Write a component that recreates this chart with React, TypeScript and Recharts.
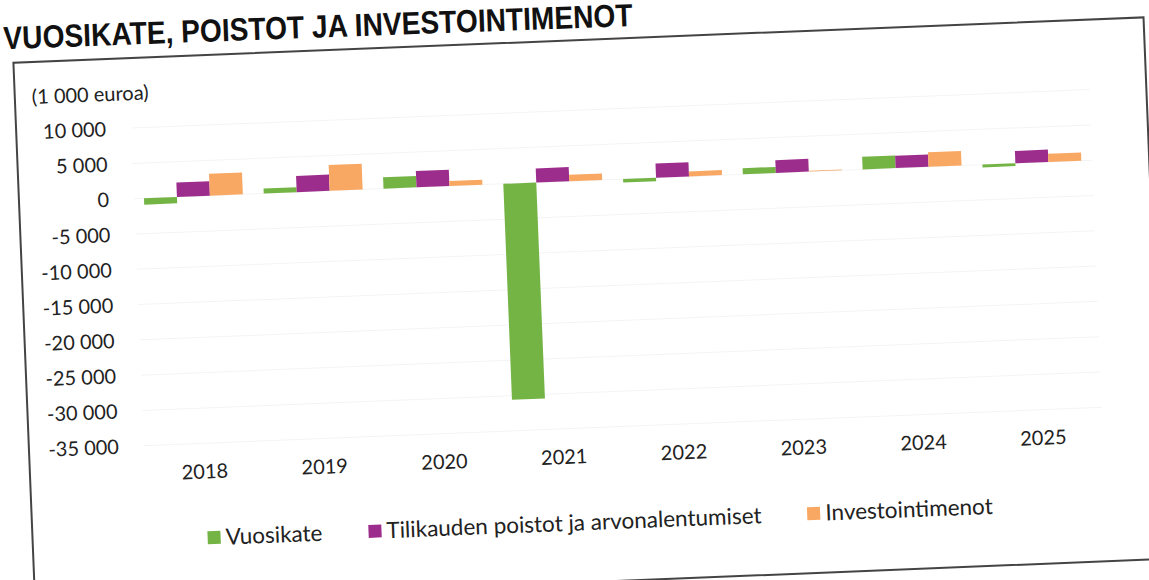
import { BarChart, Bar, XAxis, YAxis, CartesianGrid, Legend } from "recharts";

const years = ["2018", "2019", "2020", "2021", "2022", "2023", "2024", "2025"];
const vuosikate = [-900, 700, 1600, -30600, -500, 850, 1800, -400];
const poistot = [2050, 2300, 2300, 2000, 2000, 1800, 1750, 1750];
const investoinnit = [3100, 3650, 700, 900, 700, 100, 2050, 1150];
const yTicks = [10000, 5000, 0, -5000, -10000, -15000, -20000, -25000, -30000, -35000];

const series = [
  { key: "vuosikate", name: "Vuosikate", color: "#74b445" },
  { key: "poistot", name: "Tilikauden poistot ja arvonalentumiset", color: "#9d2d8c" },
  { key: "investoinnit", name: "Investointimenot", color: "#f8a862" },
];

const data = years.map((year, i) => ({
  year,
  vuosikate: vuosikate[i],
  poistot: poistot[i],
  investoinnit: investoinnit[i],
}));

const FONT = "Lato, 'Noto Sans', sans-serif";

const formatTick = (v: number) => {
  const abs = Math.abs(v).toString().replace(/\B(?=(\d{3})+(?!\d))/g, " ");
  return (v < 0 ? "-" : "") + abs;
};

const renderLegend = () => (
  <div style={{ display: "flex", alignItems: "center", fontFamily: FONT, fontSize: 22.5, lineHeight: "30px", color: "#222" }}>
    {series.map((s) => (
      <div key={s.key} style={{ display: "flex", alignItems: "center", marginRight: 46 }}>
        <span style={{ width: 13, height: 13, background: s.color, marginRight: 5, display: "inline-block" }} />
        <span>{s.name}</span>
      </div>
    ))}
  </div>
);

export default function App() {
  return (
    <div
      style={{
        position: "fixed",
        left: 0,
        top: 0,
        width: 1149,
        height: 580,
        background: "#fff",
        overflow: "hidden",
      }}
    >
      <div
        style={{
          position: "absolute",
          left: 0,
          top: 0,
          width: 1149,
          height: 580,
          transform: "rotate(-2.3deg)",
          transformOrigin: "110px 200px",
        }}
      >
        <div
          style={{
            position: "absolute",
            left: 10,
            top: 18,
            fontFamily: "'Liberation Sans', Arial, sans-serif",
            fontWeight: "bold",
            fontSize: 32,
            lineHeight: 1,
            color: "#111",
            whiteSpace: "nowrap",
            transform: "rotate(0.2deg) scaleX(0.88)",
            transformOrigin: "0 50%",
          }}
        >
          VUOSIKATE, POISTOT JA INVESTOINTIMENOT
        </div>
        <div
          style={{
            position: "absolute",
            left: 18,
            top: 58,
            width: 1129,
            height: 540,
            border: "2px solid #444",
          }}
        />
        <div
          style={{
            position: "absolute",
            left: 36,
            top: 83,
            fontFamily: FONT,
            fontSize: 20,
            lineHeight: "20px",
            color: "#222",
            whiteSpace: "nowrap",
          }}
        >
          (1 000 euroa)
        </div>
        <div style={{ position: "absolute", left: 0, top: 0 }}>
          <BarChart
            width={1149}
            height={580}
            data={data}
            margin={{ top: 129, right: 56, left: 0, bottom: 37 }}
            barCategoryGap={10}
            barGap={0}
          >
            <CartesianGrid vertical={false} stroke="#f4f4f4" />
            <XAxis
              dataKey="year"
              axisLine={false}
              tickLine={false}
              tickSize={0}
              tickMargin={21}
              height={30}
              tick={{ fontFamily: FONT, fontSize: 20, fill: "#222" }}
            />
            <YAxis
              type="number"
              domain={[-35000, 10000]}
              ticks={yTicks}
              interval={0}
              width={134}
              axisLine={false}
              tickLine={false}
              tickSize={0}
              tickMargin={25}
              tickFormatter={formatTick}
              tick={{ fontFamily: FONT, fontSize: 20, fill: "#222" }}
            />
            <Legend
              content={renderLegend}
              wrapperStyle={{ left: 194, top: 526, bottom: "auto", width: 900, height: 30 }}
            />
            {series.map((s) => (
              <Bar key={s.key} dataKey={s.key} name={s.name} fill={s.color} isAnimationActive={false} />
            ))}
          </BarChart>
        </div>
      </div>
    </div>
  );
}
